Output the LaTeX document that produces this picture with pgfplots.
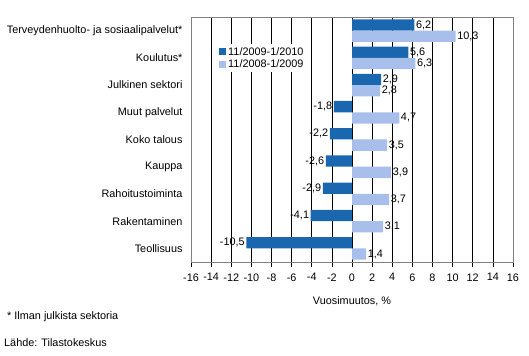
\documentclass[border=0pt]{standalone}
\usepackage{pgfplots}
\pgfplotsset{compat=1.18}
\usepackage{fontspec}
\setmainfont{Liberation Sans}
\definecolor{darkb}{RGB}{26,103,176}
\definecolor{lightb}{RGB}{168,190,235}
\definecolor{frame}{RGB}{128,128,128}
\begin{document}
\begin{tikzpicture}
\path[use as bounding box] (0,0) rectangle (529bp,356bp);
\begin{axis}[
  at={(191bp,94bp)}, anchor=south west,
  scale only axis, width=322bp, height=245bp,
  xmin=-16, xmax=16, ymin=-0.5, ymax=8.5,
  xtick={-16,-14,...,16},
  ytick={0,...,8},
  yticklabels={Teollisuus,Rakentaminen,Rahoitustoiminta,Kauppa,Koko talous,Muut palvelut,Julkinen sektori,Koulutus*,Terveydenhuolto- ja sosiaalipalvelut*},
  xbar, bar width=0.415,
  axis line style={frame},
  xmajorgrids, grid style={black, line width=0.7pt},
  tick align=outside,
  x tick style={black, line width=0.7pt},
  xtick pos=bottom,
  major tick length=5bp,
  y tick style={draw=none},
  ytick pos=left,
  font=\fontsize{10.9}{12}\selectfont,
  tick label style={font=\fontsize{10.9}{12}\selectfont},
  xticklabel style={yshift=-3bp},
  /pgf/number format/assume math mode=true,
  xlabel={Vuosimuutos, \%},
  xlabel style={yshift=-9bp},
  nodes near coords,
  nodes near coords style={font=\fontsize{10.9}{12}\selectfont, inner sep=1.5bp,
     /pgf/number format/.cd, use comma, fixed, fixed zerofill, precision=1, assume math mode=true},
  legend style={at={(0.084,0.89)}, anchor=north west, draw=none, fill=white,
     font=\fontsize{10.9}{12}\selectfont, inner sep=1bp, row sep=-1bp,
     /tikz/every even column/.append style={column sep=1bp}},
  legend cell align=left,
  legend image code/.code={\fill[#1] (0bp,-3.5bp) rectangle (7bp,3.5bp);},
]
\addplot[fill=darkb, draw=none, bar shift=0.2075] coordinates {
 (-10.5,0) (-4.1,1) (-2.9,2) (-2.6,3) (-2.2,4) (-1.8,5) (2.9,6) (5.6,7) (6.2,8)};
\addplot[fill=lightb, draw=none, bar shift=-0.2075] coordinates {
 (1.4,0) (3.1,1) (3.7,2) (3.9,3) (3.5,4) (4.7,5) (2.8,6) (6.3,7) (10.3,8)};
\legend{11/2009-1/2010, 11/2008-1/2009}
\draw[black, line width=0.7pt] (axis cs:-16,-0.5) -- (axis cs:16,-0.5);
\end{axis}
\node[anchor=west, inner sep=0, font=\fontsize{10.9}{12}\selectfont] at (7bp,39bp) {* Ilman julkista sektoria};
\node[anchor=west, inner sep=0, font=\fontsize{10.9}{12}\selectfont] at (4bp,13bp) {Lähde: Tilastokeskus};
\end{tikzpicture}
\end{document}
